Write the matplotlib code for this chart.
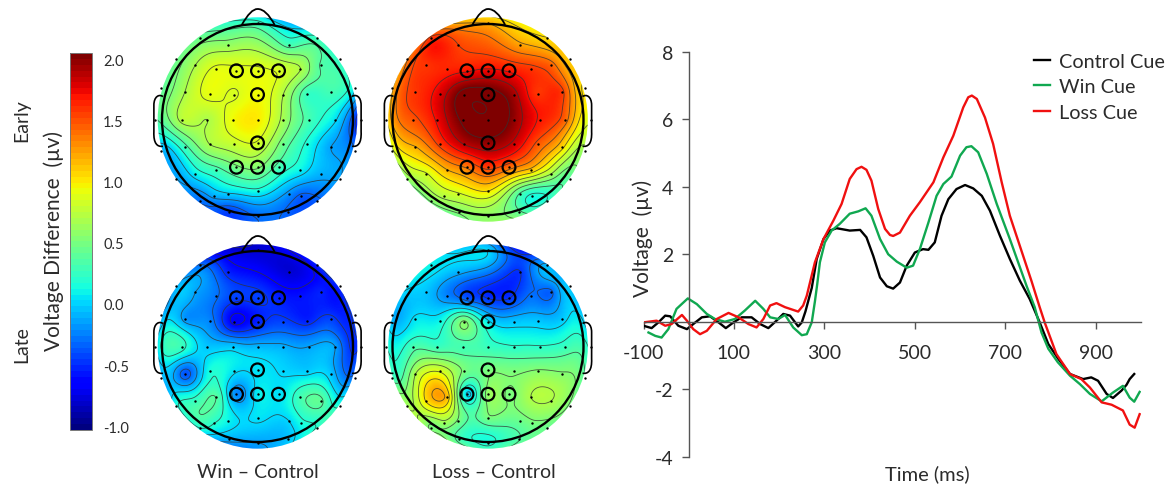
"""
Cue-locked ERP figure: scalp difference maps plus grand average waveforms.
"""

import numpy as np
import matplotlib
matplotlib.use("Agg")
import matplotlib.pyplot as plt
from matplotlib.cm import ScalarMappable
from matplotlib.colors import Normalize
from matplotlib.patches import Ellipse, Circle, PathPatch
from matplotlib.path import Path

plt.rcParams["font.family"] = ["Lato", "DejaVu Sans"]
plt.rcParams["axes.unicode_minus"] = False

W, H = 1169, 485
TEXT = "#2b2b2b"

# ---------------------------------------------------------------------------
# Waveform data (time in ms, voltage in uV)
# ---------------------------------------------------------------------------

control_t = [-100, -82, -67, -52, -41, -23, -4, 10, 29, 47, 66, 82, 99, 117, 139, 158, 176, 194, 209, 224, 242,
             250, 258, 264, 272, 283, 298, 312, 327, 356, 379, 393, 408, 423, 438, 452, 467, 482, 500, 518, 530,
             544, 559, 574, 592, 611, 629, 648, 666, 688, 710, 732, 754, 776, 795, 817, 843, 872, 890, 905, 924,
             938, 957, 968, 975, 985]
control_v = [-0.12, -0.19, -0.02, 0.18, 0.16, -0.12, -0.22, -0.07, 0.13, 0.16, -0.02, -0.19, -0.02, 0.13, 0.13,
             -0.07, -0.19, 0.03, 0.23, 0.18, -0.14, -0.02, 0.3, 0.6, 1.0, 1.86, 2.45, 2.7, 2.77, 2.7, 2.72, 2.5,
             1.95, 1.31, 1.05, 0.98, 1.16, 1.66, 2.05, 2.15, 2.13, 2.35, 3.14, 3.63, 3.93, 4.05, 3.95, 3.73, 3.29,
             2.55, 1.86, 1.22, 0.67, -0.02, -0.66, -1.1, -1.55, -1.7, -1.65, -1.75, -2.14, -2.26, -2.04, -1.87,
             -1.7, -1.55]

win_t = [-89, -74, -60, -45, -27, -2, 18, 40, 58, 80, 102, 124, 147, 165, 180, 198, 213, 231, 250, 261, 272, 279,
         284, 290, 301, 316, 334, 356, 375, 391, 404, 423, 441, 460, 482, 496, 511, 530, 548, 563, 581, 600, 614,
         625, 640, 659, 681, 710, 747, 765, 780, 795, 816, 843, 865, 887, 913, 938, 960, 975, 985, 997]
win_v = [-0.32, -0.42, -0.47, -0.22, 0.38, 0.69, 0.52, 0.23, 0.08, 0.0, 0.08, 0.33, 0.62, 0.38, 0.13, 0.08, 0.2,
         -0.17, -0.4, -0.37, -0.02, 0.6, 1.1, 1.76, 2.35, 2.7, 2.9, 3.2, 3.27, 3.36, 3.14, 2.45, 2.0, 1.78, 1.6,
         1.66, 2.15, 2.94, 3.73, 4.08, 4.3, 4.92, 5.17, 5.2, 5.02, 4.38, 3.49, 2.45, 1.06, 0.43, -0.32, -0.8, -1.2,
         -1.6, -1.85, -2.14, -2.36, -2.1, -1.9, -2.25, -2.37, -2.08]

loss_t = [-100, -71, -52, -38, -15, -4, 10, 25, 40, 62, 88, 110, 132, 150, 165, 180, 194, 213, 242, 253, 261, 279,
          298, 320, 338, 356, 371, 382, 393, 404, 419, 434, 445, 452, 467, 489, 511, 541, 563, 585, 607, 618, 626,
          637, 655, 673, 692, 710, 758, 776, 787, 813, 843, 868, 887, 913, 935, 960, 975, 986, 997]
loss_v = [-0.02, 0.03, -0.12, -0.07, 0.2, 0.03, -0.22, -0.37, -0.27, 0.08, 0.26, 0.13, -0.07, -0.17, 0.08, 0.48,
          0.55, 0.43, 0.3, 0.48, 0.77, 1.76, 2.45, 3.0, 3.49, 4.23, 4.52, 4.59, 4.5, 4.18, 3.34, 2.75, 2.57, 2.54,
          2.64, 3.14, 3.54, 4.13, 4.87, 5.51, 6.35, 6.65, 6.7, 6.6, 6.05, 5.27, 4.13, 3.14, 1.2, 0.43, -0.02, -0.96,
          -1.55, -1.7, -1.95, -2.39, -2.46, -2.63, -3.05, -3.14, -2.74]

# ---------------------------------------------------------------------------
# Electrodes (head units, head circle radius = 1) and their difference values
# ---------------------------------------------------------------------------

elec_x = [0.0, -0.60, -0.31, 0.33, 0.62,
          -0.85, -0.65, -0.43, -0.22, 0.0, 0.22, 0.45, 0.66, 0.86,
          -1.01, -0.76, -0.50, -0.25, 0.0, 0.27, 0.52, 0.77, 1.02,
          -1.07, -0.79, -0.53, -0.26, 0.0, 0.27, 0.54, 0.81, 1.08,
          -1.01, -0.76, -0.50, -0.25, 0.0, 0.27, 0.52, 0.77, 1.02,
          -0.85, -0.65, -0.43, -0.22, 0.0, 0.22, 0.45, 0.66, 0.86,
          -0.60, -0.46, -0.31, 0.0, 0.33, 0.46, 0.62,
          -0.30, 0.0, 0.32]
elec_y = [1.01, 0.85, 0.78, 0.78, 0.85,
          0.63, 0.57, 0.53, 0.51, 0.51, 0.51, 0.53, 0.57, 0.63,
          0.33, 0.29, 0.27, 0.26, 0.26, 0.26, 0.27, 0.29, 0.33,
          0.0, 0.0, 0.0, 0.0, 0.0, 0.0, 0.0, 0.0, 0.0,
          -0.33, -0.29, -0.26, -0.255, -0.245, -0.255, -0.26, -0.29, -0.33,
          -0.62, -0.57, -0.53, -0.50, -0.50, -0.50, -0.53, -0.57, -0.62,
          -0.85, -0.80, -0.78, -0.745, -0.78, -0.80, -0.85,
          -0.97, -1.01, -0.97]

# electrodes picked out with rings
ring_x = [-0.22, 0.0, 0.22, 0.0, 0.0, -0.22, 0.0, 0.22]
ring_y = [0.51, 0.51, 0.51, 0.26, -0.245, -0.50, -0.50, -0.50]

win_early = [0.25, 0.45, 0.6, 0.3, 0.25,
             0.45, 0.7, 0.9, 0.9, 0.9, 0.85, 0.7, 0.35, 0.2,
             0.4, 0.7, 0.92, 0.85, 0.95, 0.7, 0.25, 0.3, 0.05,
             0.35, 0.75, 0.7, 0.95, 1.0, 0.65, 0.3, 0.05, -0.65,
             -0.1, 0.3, 0.7, 0.8, 0.85, 0.45, 0.15, -0.15, -0.3,
             -0.15, 0.1, 0.3, 0.5, 0.55, 0.3, 0.1, -0.1, -0.15,
             -0.3, -0.1, 0.0, 0.15, -0.2, -0.35, -0.35,
             -0.45, -0.3, -0.35]
loss_early = [1.2, 1.6, 1.55, 1.25, 1.05,
              1.35, 1.6, 1.65, 1.7, 1.75, 1.7, 1.6, 1.45, 1.1,
              1.15, 1.6, 1.8, 2.15, 2.15, 1.95, 1.6, 1.6, 1.0,
              1.0, 1.5, 1.75, 2.1, 2.2, 2.0, 1.7, 1.45, 0.9,
              0.8, 1.2, 1.6, 1.9, 2.0, 1.85, 1.5, 1.1, 0.65,
              0.6, 0.85, 1.2, 1.4, 1.6, 1.45, 1.15, 0.7, 0.4,
              0.55, 0.75, 0.85, 1.05, 0.35, 0.15, 0.2,
              0.55, 0.6, 0.4]
win_late = [-0.8, -0.3, -0.55, -0.8, -0.55,
            -0.1, -0.15, -0.3, -0.45, -0.45, -0.55, -0.6, -0.55, -0.5,
            -0.15, -0.2, -0.25, -0.7, -0.55, -0.45, -0.55, -0.45, -0.4,
            0.0, 0.25, -0.05, -0.05, -0.1, -0.12, -0.15, -0.15, -0.45,
            -0.1, -0.4, 0.15, 0.05, 0.05, 0.0, -0.03, -0.05, -0.25,
            0.15, 0.25, 0.35, -0.25, 0.08, 0.03, 0.3, 0.4, 0.15,
            0.2, 0.2, 0.1, 0.05, 0.02, 0.15, 0.2,
            -0.1, -0.15, -0.05]
loss_late = [0.0, 0.1, -0.1, -0.5, -0.1,
             0.05, -0.05, -0.25, -0.4, -0.5, -0.5, -0.3, -0.35, -0.05,
             -0.1, 0.05, 0.1, 0.55, 0.05, -0.05, -0.05, -0.05, -0.1,
             0.2, 0.3, 0.25, 0.3, 0.25, 0.2, 0.2, 0.25, 0.1,
             0.3, 0.7, 0.85, 0.5, 0.5, 0.5, 0.55, 0.55, 0.35,
             0.65, 1.05, 1.15, 0.0, 0.6, 0.5, 0.7, 0.7, 0.5,
             0.5, 0.65, 0.5, 0.5, 0.45, 0.5, 0.45,
             0.3, 0.15, 0.35]

cbar_ticks = [2.0, 1.5, 1.0, 0.5, 0.0, -0.5, -1.0]
VMIN, VMAX = -1.03, 2.05


def add_px_axes(x0, y0, x1, y1):
    """Axes placed by pixel box, y counted from the top of the figure."""
    return fig.add_axes([x0 / W, 1 - y1 / H, (x1 - x0) / W, (y1 - y0) / H])


def scalp_field(values, gx, gy):
    """Biharmonic spline through the electrode values, as topoplot does."""
    ex, ey = np.array(elec_x), np.array(elec_y)

    def kernel(r):
        r = np.maximum(r, 1e-9)
        return r ** 2 * (np.log(r) - 1)

    weights = np.linalg.solve(kernel(np.hypot(ex[:, None] - ex, ey[:, None] - ey)), np.array(values))
    dist = np.hypot(gx[..., None] - ex, gy[..., None] - ey)
    return (kernel(dist) * weights).sum(axis=-1)


def head_outline(ax):
    ax.add_patch(Circle((0, 0), 1.0, fill=False, ec="black", lw=1.7, zorder=5))
    nose = Path([(-0.165, 0.99), (-0.07, 1.16), (0.0, 1.157), (0.09, 1.16), (0.18, 0.99)],
                [Path.MOVETO, Path.CURVE3, Path.CURVE3, Path.CURVE3, Path.CURVE3])
    ax.add_patch(PathPatch(nose, fill=False, ec="black", lw=1.3, zorder=5))
    for side in (-1, 1):
        ear = Path([(side * 0.99, 0.24), (side * 1.03, 0.27), (side * 1.085, 0.24), (side * 1.085, 0.15),
                    (side * 1.085, 0.05), (side * 1.085, -0.05), (side * 1.085, -0.13),
                    (side * 1.09, -0.25), (side * 1.05, -0.29), (side * 0.99, -0.28)],
                   [Path.MOVETO, Path.CURVE4, Path.CURVE4, Path.CURVE4,
                    Path.CURVE4, Path.CURVE4, Path.CURVE4,
                    Path.CURVE4, Path.CURVE4, Path.CURVE4])
        ax.add_patch(PathPatch(ear, fill=False, ec="black", lw=1.2, zorder=5))


def plot_topomap(cx, cy, values):
    radius = 95.5
    half = 1.2 * radius
    ax = add_px_axes(cx - half, cy - half, cx + half, cy + half)
    ax.set_xlim(-1.2, 1.2)
    ax.set_ylim(-1.2, 1.2)
    ax.axis("off")
    ax.patch.set_alpha(0)

    gx, gy = np.meshgrid(np.linspace(-1.12, 1.12, 220), np.linspace(-1.12, 1.12, 220))
    field = scalp_field(values, gx, gy)

    disk = Ellipse((0, 0), 2.09, 2.14, transform=ax.transData)
    im = ax.imshow(field, origin="lower", extent=(-1.12, 1.12, -1.12, 1.12), cmap="jet",
                   vmin=VMIN, vmax=VMAX, interpolation="bilinear", aspect="auto")
    im.set_clip_path(disk)
    cs = ax.contour(gx, gy, field, levels=np.arange(-1.0, 2.5, 0.17), colors="#333333", linewidths=0.6,
                    linestyles="solid", alpha=0.8)
    cs.set_clip_path(disk)

    ax.scatter(elec_x, elec_y, s=3, color="black", lw=0, zorder=4)
    ax.scatter(ring_x, ring_y, s=85, facecolors="none", edgecolors="black", linewidths=1.6, zorder=6)
    head_outline(ax)
    return ax


# ---------------------------------------------------------------------------
# Figure
# ---------------------------------------------------------------------------

fig = plt.figure(figsize=(W / 100, H / 100), dpi=100, facecolor="white")

plot_topomap(257.5, 120.5, win_early)
plot_topomap(488, 120.5, loss_early)
plot_topomap(257.5, 347.5, win_late)
plot_topomap(488, 347.5, loss_late)

# colour bar
cax = add_px_axes(70, 54, 92, 431)
sm = ScalarMappable(norm=Normalize(VMIN, VMAX), cmap=plt.get_cmap("jet", 64))
cb = fig.colorbar(sm, cax=cax, ticks=cbar_ticks)
cb.ax.set_yticklabels([f"{v:.1f}" for v in cbar_ticks], fontsize=10.5, color=TEXT)
cb.ax.tick_params(length=0, pad=8)
cb.outline.set_edgecolor("#777777")
cb.outline.set_linewidth(0.7)

fig.text(22 / W, 1 - 121 / H, "Early", rotation=90, ha="center", va="center", fontsize=14, color=TEXT)
fig.text(22 / W, 1 - 345 / H, "Late", rotation=90, ha="center", va="center", fontsize=14, color=TEXT)
fig.text(54 / W, 1 - 241 / H, "Voltage Difference  (\u00b5v)", rotation=90, ha="center", va="center",
         fontsize=15, color=TEXT)
fig.text(258 / W, 1 - 473 / H, "Win \u2013 Control", ha="center", va="center", fontsize=14, color=TEXT)
fig.text(494 / W, 1 - 473 / H, "Loss \u2013 Control", ha="center", va="center", fontsize=14, color=TEXT)

# waveforms
ax = add_px_axes(643.5, 52.7, 1141, 457.7)
ax.plot(control_t, control_v, color="black", lw=1.7, label="Control Cue", solid_joinstyle="round")
ax.plot(win_t, win_v, color="#10a850", lw=1.7, label="Win Cue", solid_joinstyle="round")
ax.plot(loss_t, loss_v, color="#f01010", lw=1.7, label="Loss Cue", solid_joinstyle="round")

ax.set_xlim(-100, 1000)
ax.set_ylim(-4, 8)
ax.set_xticks([-100, 100, 300, 500, 700, 900])
ax.set_yticks([-4, -2, 2, 4, 6, 8])
ax.spines["top"].set_visible(False)
ax.spines["right"].set_visible(False)
ax.spines["left"].set_position(("data", 0))
ax.spines["bottom"].set_position(("data", 0))
for name in ("left", "bottom"):
    ax.spines[name].set_color("#555555")
    ax.spines[name].set_linewidth(1.0)
ax.tick_params(axis="both", color="#555555", length=5, width=1.0, labelsize=14, labelcolor=TEXT)
ax.tick_params(axis="x", pad=11)
ax.tick_params(axis="y", pad=6)
ax.patch.set_alpha(0)

fig.text(643 / W, 1 - 238 / H, "Voltage  (\u00b5v)", rotation=90, ha="center", va="center", fontsize=15,
         color=TEXT)
fig.text(927 / W, 1 - 474 / H, "Time (ms)", ha="center", va="center", fontsize=14.5, color=TEXT)

ax.legend(loc="upper left", bbox_to_anchor=(1034 / W, 1 - 54 / H), bbox_transform=fig.transFigure, frameon=False,
          fontsize=14.3, handlelength=0.8, handletextpad=0.45, labelspacing=0.42, borderaxespad=0, borderpad=0,
          labelcolor=TEXT)

fig.savefig("out.png", dpi=100)
